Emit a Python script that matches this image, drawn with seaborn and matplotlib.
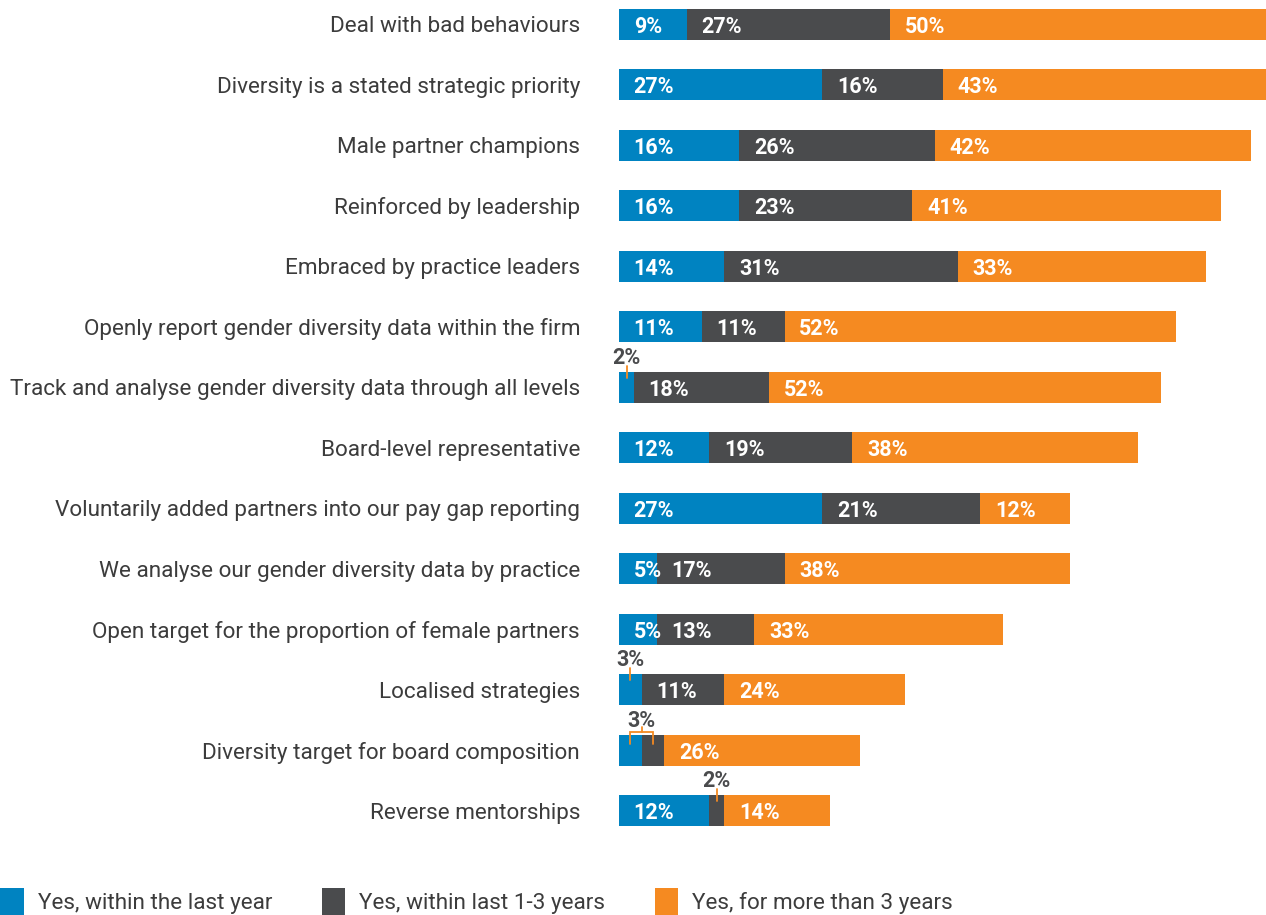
import matplotlib
matplotlib.use("Agg")
import matplotlib.pyplot as plt
from matplotlib.patches import Patch
import seaborn as sns
import pandas as pd
import numpy as np

categories = [
    "Deal with bad behaviours",
    "Diversity is a stated strategic priority",
    "Male partner champions",
    "Reinforced by leadership",
    "Embraced by practice leaders",
    "Openly report gender diversity data within the firm",
    "Track and analyse gender diversity data through all levels",
    "Board-level representative",
    "Voluntarily added partners into our pay gap reporting",
    "We analyse our gender diversity data by practice",
    "Open target for the proportion of female partners",
    "Localised strategies",
    "Diversity target for board composition",
    "Reverse mentorships",
]
within_last_year = [9, 27, 16, 16, 14, 11, 2, 12, 27, 5, 5, 3, 3, 12]
within_1_3_years = [27, 16, 26, 23, 31, 11, 18, 19, 21, 17, 13, 11, 3, 2]
more_than_3_years = [50, 43, 42, 41, 33, 52, 52, 38, 12, 38, 33, 24, 26, 14]
series_names = ["Yes, within the last year", "Yes, within last 1-3 years", "Yes, for more than 3 years"]

BLUE = "#0083C1"
DARK = "#4A4B4D"
ORANGE = "#F58A21"
TEXT = "#3C3C3C"
colors = [BLUE, DARK, ORANGE]

sns.set_theme(style="white")
plt.rcParams["font.family"] = ["Roboto", "DejaVu Sans"]

df = pd.DataFrame({
    "category": categories,
    "s1": within_last_year,
    "s2": within_1_3_years,
    "s3": more_than_3_years,
})
df["c1"] = df["s1"]
df["c2"] = df["s1"] + df["s2"]
df["c3"] = df["c2"] + df["s3"]

fig = plt.figure(figsize=(12.66, 9.15), dpi=100)
ax = fig.add_axes([619 / 1266, 1 - 826 / 915, 1 - 619 / 1266, (826 - 9) / 915])

H = 0.512
sns.barplot(data=df, y="category", x="c3", color=ORANGE, orient="h", width=H, ax=ax, saturation=1)
sns.barplot(data=df, y="category", x="c2", color=DARK, orient="h", width=H, ax=ax, saturation=1)
sns.barplot(data=df, y="category", x="c1", color=BLUE, orient="h", width=H, ax=ax, saturation=1)
for p in ax.patches:
    p.set_linewidth(0)

ax.set_xlim(0, 86)
ax.set_ylim(len(categories) - 1 + H / 2, -H / 2)
ax.set_xlabel("")
ax.set_ylabel("")
ax.set_xticks([])
ax.tick_params(axis="y", length=0, pad=28, labelsize=16.2, labelcolor=TEXT)
for s in ax.spines.values():
    s.set_visible(False)

LBL = 15.5
small = 4
for i, row in df.iterrows():
    vals = [row["s1"], row["s2"], row["s3"]]
    starts = [0, row["c1"], row["c2"]]
    bracket = vals[0] < small and vals[1] < small
    for k in range(3):
        v = vals[k]
        if v < small:
            continue
        ax.text(starts[k] + 1.95, i, f"{v}%", color="white", fontsize=LBL, fontweight="bold",
                va="center_baseline", ha="left")
    if bracket:
        x1 = starts[0] + vals[0] / 2
        x2 = starts[1] + vals[1] / 2
        xm = (x1 + x2) / 2
        ax.plot([x1, x1, x2, x2], [i - 0.1, i - 0.30, i - 0.30, i - 0.1], color=ORANGE, lw=1.3,
                clip_on=False, solid_joinstyle="miter")
        ax.plot([xm, xm], [i - 0.30, i - 0.38], color=ORANGE, lw=1.3, clip_on=False)
        ax.text(xm, i - 0.52, f"{vals[0]}%", color=DARK, fontsize=LBL, fontweight="bold",
                ha="center", va="center_baseline")
    else:
        for k in range(2):
            v = vals[k]
            if v < small:
                xc = starts[k] + v / 2
                ax.plot([xc, xc], [i - 0.16, i - 0.36], color=ORANGE, lw=1.3, clip_on=False)
                ax.text(xc, i - 0.53, f"{v}%", color=DARK, fontsize=LBL, fontweight="bold",
                        ha="center", va="center_baseline")

handles = [Patch(facecolor=c, edgecolor="none") for c in colors]
leg = fig.legend(handles, series_names, loc="lower left", bbox_to_anchor=(0.0, 0.0), ncol=3,
                 frameon=False, fontsize=16.2, handlelength=1.05, handleheight=1.5,
                 handletextpad=0.62, columnspacing=2.2, borderpad=0, borderaxespad=0)
for t in leg.get_texts():
    t.set_color(TEXT)

fig.savefig("out.png", dpi=100)
